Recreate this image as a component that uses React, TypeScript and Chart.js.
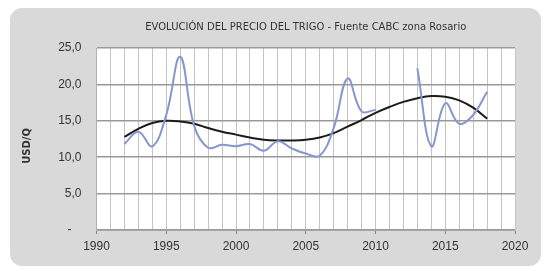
import { useEffect, useRef } from 'react';
import { Chart, registerables } from 'chart.js';

Chart.register(...registerables);

const TITLE_FONT = 'DejaVu Sans';

const titleText = 'EVOLUCIÓN DEL PRECIO DEL TRIGO - Fuente CABC zona Rosario';
const yTitle = 'USD/Q';

const years = [
  1992, 1993, 1994, 1995, 1996, 1997, 1998, 1999, 2000, 2001, 2002, 2003, 2004, 2005,
  2006, 2007, 2008, 2009, 2010, 2011, 2012, 2013, 2014, 2015, 2016, 2017, 2018,
];
const price: (number | null)[] = [
  11.8, 13.5, 11.5, 15.8, 23.8, 14.3, 11.3, 11.7, 11.5, 11.8, 10.9, 12.2, 11.2, 10.5,
  10.2, 14.0, 20.8, 16.3, 16.5, null, null, 22.2, 11.5, 17.4, 14.6, 15.8, 19.0,
];
const trend = [
  12.8, 13.9, 14.7, 15.0, 14.9, 14.6, 14.0, 13.5, 13.1, 12.7, 12.4, 12.3, 12.3, 12.4,
  12.7, 13.3, 14.2, 15.1, 16.1, 16.9, 17.6, 18.1, 18.4, 18.3, 17.8, 16.8, 15.3,
];
const xLabelYears = [1990, 1995, 2000, 2005, 2010, 2015, 2020];

export default function App() {
  const ref = useRef<HTMLCanvasElement>(null);

  useEffect(() => {
    const plotBg = {
      id: 'plotBg',
      beforeDraw(c: any) {
        const { ctx, chartArea } = c;
        if (!chartArea) return;
        ctx.save();
        ctx.fillStyle = '#ffffff';
        ctx.fillRect(
          chartArea.left,
          chartArea.top,
          chartArea.right - chartArea.left,
          chartArea.bottom - chartArea.top
        );
        ctx.restore();
      },
    };

    const chart = new Chart(ref.current!, {
      type: 'line',
      data: {
        datasets: [
          {
            label: 'Precio',
            data: years.map((x, i) => ({ x, y: price[i] })) as any,
            borderColor: '#8597cc',
            borderWidth: 2,
            pointRadius: 0,
            tension: 0.4,
            spanGaps: false,
            fill: false,
          },
          {
            label: 'Tendencia',
            data: years.map((x, i) => ({ x, y: trend[i] })) as any,
            borderColor: '#1c1c1c',
            borderWidth: 2,
            pointRadius: 0,
            tension: 0.4,
            fill: false,
          },
        ],
      },
      options: {
        animation: false,
        responsive: false,
        devicePixelRatio: 1,
        layout: { padding: { left: 0, right: 26, top: 0, bottom: 0 } },
        plugins: {
          legend: { display: false },
          tooltip: { enabled: false },
          title: {
            display: true,
            text: titleText,
            fullSize: false,
            color: '#333333',
            font: { family: TITLE_FONT, size: 10, weight: 'normal' },
            padding: { top: 13, bottom: 15 },
          },
        },
        scales: {
          x: {
            type: 'linear',
            min: 1990,
            max: 2020,
            ticks: {
              stepSize: 1,
              autoSkip: false,
              maxRotation: 0,
              padding: 5,
              color: '#333333',
              callback: (v: any) => (xLabelYears.includes(Number(v)) ? String(v) : ''),
            },
            grid: {
              color: '#c4c4c4',
              lineWidth: 1,
              tickLength: 4,
              tickColor: (ctx: any) =>
                ctx.tick && xLabelYears.includes(ctx.tick.value) ? '#808080' : 'rgba(0,0,0,0)',
            },
            afterFit: (s: any) => {
              s.height = 36;
            },
          },
          y: {
            min: 0,
            max: 25,
            ticks: {
              stepSize: 5,
              padding: 15,
              autoSkip: false,
              color: '#333333',
              callback: (v: any) => (Number(v) === 0 ? '-   ' : Number(v).toFixed(1).replace('.', ',')),
            },
            grid: { color: '#9a9a9a', lineWidth: 1.5, drawTicks: false },
            title: {
              display: true,
              text: yTitle + '    ',
              color: '#333333',
              font: { family: TITLE_FONT, size: 10, weight: 'bold' },
              padding: { top: 11, bottom: 0 },
            },
            afterFit: (s: any) => {
              s.width = 86.5;
            },
          },
        },
      },
      plugins: [plotBg],
    });

    return () => chart.destroy();
  }, []);

  return (
    <div
      style={{
        marginLeft: 2,
        width: 531,
        height: 258,
        background: '#d9d9d9',
        borderRadius: 12,
      }}
    >
      <canvas ref={ref} width={531} height={258} style={{ display: 'block' }} />
    </div>
  );
}
